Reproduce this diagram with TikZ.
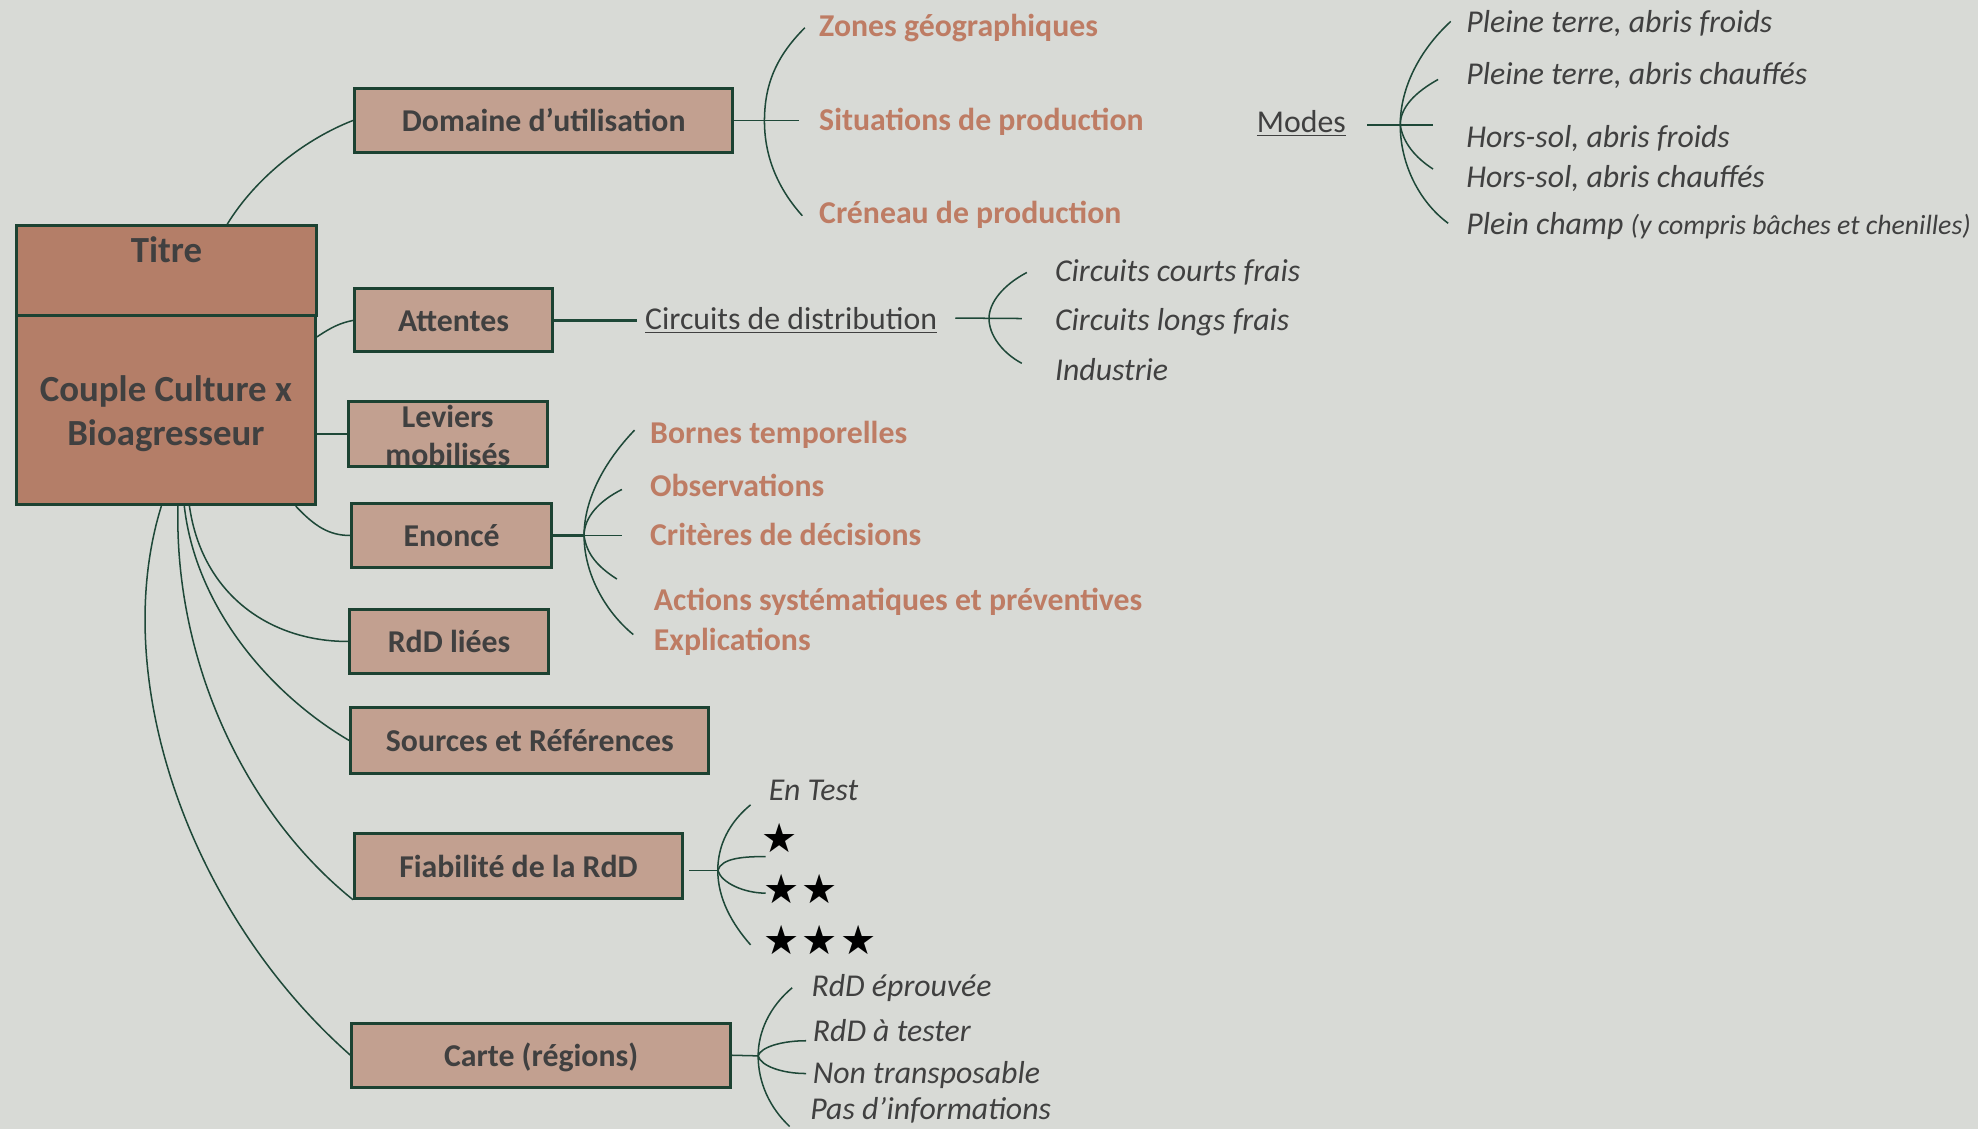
\documentclass[tikz,border=0pt]{standalone}
\usepackage{fontspec}
\setmainfont{Carlito}
\newfontfamily\symfont{DejaVu Sans}
\usetikzlibrary{calc}

\definecolor{bgc}{RGB}{216,218,214}
\definecolor{boxl}{RGB}{194,160,144}
\definecolor{boxd}{RGB}{180,126,104}
\definecolor{bordc}{RGB}{28,66,50}
\definecolor{linec}{RGB}{30,72,56}
\definecolor{orac}{RGB}{190,124,100}
\definecolor{txtc}{RGB}{64,64,64}

\newcommand\bxfont{\bfseries\fontsize{12.6}{15}\selectfont}
\newcommand\ttlfont{\bfseries\fontsize{14.6}{17.5}\selectfont}

\tikzset{
  frame/.style={draw=bordc, line width=1.2pt, inner sep=0pt},
  box/.style={frame, fill=boxl, text=txtc, font=\bxfont, text height=8.8pt, text depth=0pt},
  link/.style={draw=linec, line width=0.6pt},
  stub/.style={draw=linec, line width=1.1pt},
  item/.style={anchor=west, inner sep=0pt, text height=8.8pt, text depth=0pt},
  subbold/.style={item, text=orac, font=\bfseries\fontsize{12.6}{15}\selectfont},
  subital/.style={item, text=txtc, font=\itshape\fontsize{12.6}{15}\selectfont},
  subplain/.style={item, text=txtc, font=\fontsize{12.6}{15}\selectfont},
  starrow/.style={anchor=base west, inner sep=0pt, text=black, font=\symfont\fontsize{16}{18}\selectfont},
}

\begin{document}
\begin{tikzpicture}[x=0.5pt,y=-0.5pt]
\fill[bgc] (0,0) rectangle (1568,895);
\useasboundingbox (0,0) rectangle (1568,895);

% central block
\node[frame, fill=boxd, minimum width=119pt, minimum height=35.5pt] (titre) at (132,214.5) {};
\node[inner sep=0pt, text=txtc, font=\ttlfont, text height=10pt, text depth=0pt] (titrelbl) at (132,198) {Titre};
\node[frame, fill=boxd, minimum width=118.5pt, minimum height=75pt] (couple) at (131.5,325) {};
\node[inner sep=0pt, text=txtc, font=\ttlfont, align=center] (couplelbl) at (131.5,328) {Couple Culture x\\Bioagresseur};

% first-level boxes
\node[box, minimum width=150pt, minimum height=25.5pt] (dom) at (431,95.5) {Domaine d’utilisation};
\node[box, minimum width=78.5pt, minimum height=25pt] (att) at (359.5,254) {Attentes};
\node[frame, fill=boxl, minimum width=79pt, minimum height=26pt] (lev) at (355,344) {};
\node[inner sep=0pt, text=txtc, font=\bxfont, align=center] (levlbl) at (355,345) {Leviers\\mobilisés};
\node[box, minimum width=79pt, minimum height=25.5pt] (eno) at (358,424.5) {Enoncé};
\node[box, minimum width=79pt, minimum height=25.5pt] (rdd) at (356,508.5) {RdD liées};
\node[box, minimum width=142pt, minimum height=26pt] (src) at (420,587) {Sources et Références};
\node[box, minimum width=130pt, minimum height=25.5pt] (fia) at (411,686.5) {Fiabilité de la RdD};
\node[box, minimum width=150pt, minimum height=25.5pt] (car) at (429,836.5) {Carte (régions)};

% links from the central block
\draw[link] ($(titre.north west)!0.7!(titre.north east)$) .. controls +(24,-39) and +(-36,14) .. (dom.west);
\draw[link] ($(couple.north east)!0.12!(couple.south east)$) .. controls +(12,-8) and +(-10,2) .. (att.west);
\draw[stub] (lev.west -| couple.east) -- (lev.west);
\draw[link] ($(couple.south west)!0.93!(couple.south east)$) .. controls +(15,16) and +(-17,0) .. (eno.west);
\draw[link] ($(couple.south west)!0.578!(couple.south east)$) .. controls +(10,70) and +(-62,0) .. (rdd.west);
\draw[link] ($(couple.south west)!0.561!(couple.south east)$) .. controls +(9,80) and +(-63,-37) .. (src.west);
\draw[link] ($(couple.south west)!0.54!(couple.south east)$) .. controls +(-3,120) and +(-88,-71) .. (fia.south west);
\draw[link] ($(couple.south west)!0.485!(couple.south east)$) .. controls +(-42,135) and +(-129,-114) .. (car.west);

% Domaine d'utilisation
\node[subbold] (zon) at (649,20) {Zones géographiques};
\node[subbold] (sit) at (649,95) {Situations de production};
\node[subbold] (cre) at (649,168) {Créneau de production};
\coordinate (domfork) at (606,96);
\coordinate (domstub) at (633,96);
\coordinate (domtop) at (638,22);
\coordinate (dombot) at (636,171);
\draw[link] (dom.east) -- (dom.east -| domstub);
\draw[link] (domtop) .. controls (616,44) and (606,66) .. (domfork) .. controls (606,126) and (618,151) .. (dombot);

% Modes
\node[subplain] (modes) at (996,96) {\underline{Modes}};
\node[subital] (m1) at (1162,17) {Pleine terre, abris froids};
\node[subital] (m2) at (1162,58) {Pleine terre, abris chauffés};
\node[subital] (m3) at (1162,108) {Hors-sol, abris froids};
\node[subital] (m4) at (1162,140) {Hors-sol, abris chauffés};
\node[subital] (m5) at (1162,177) {Plein champ {\fontsize{11}{13}\selectfont(y compris bâches et chenilles)}};
\coordinate (modstart) at (1084,99);
\coordinate (modfork) at (1110,99);
\coordinate (modstub) at (1136,99);
\coordinate (modtop) at (1150,17);
\coordinate (modbot) at (1148,177);
\coordinate (modin1) at (1140,63);
\coordinate (modin2) at (1136,134);
\draw[link] (modstart) -- (modstub);
\draw[link] (modtop) .. controls (1125,40) and (1110,70) .. (modfork) .. controls (1110,130) and (1125,160) .. (modbot);
\draw[link] (modin1) .. controls (1122,73) and (1110,85) .. (modfork);
\draw[link] (modfork) .. controls (1112,113) and (1122,125) .. (modin2);

% Attentes
\node[subplain] (cdd) at (511,252) {\underline{Circuits de distribution}};
\node[subital] (c1) at (836,214) {Circuits courts frais};
\node[subital] (c2) at (836,253) {Circuits longs frais};
\node[subital] (c3) at (836,293) {Industrie};
\coordinate (cirfork) at (784,252.5);
\coordinate (cirstub) at (810,252.5);
\coordinate (cirtop) at (814,216);
\coordinate (cirbot) at (810,288);
\draw[stub, shorten >=3pt] (att.east) -- (att.east -| cdd.west);
\draw[link, shorten <=7pt] (cdd.east) -- (cirstub);
\draw[link] (cirtop) .. controls (795,226) and (784,240) .. (cirfork) .. controls (784,266) and (795,280) .. (cirbot);

% Enonce
\node[subbold] (e1) at (515,343) {Bornes temporelles};
\node[subbold] (e2) at (515,385) {Observations};
\node[subbold] (e3) at (515,424) {Critères de décisions};
\node[subbold] (e4) at (518,475) {Actions systématiques et préventives};
\node[subbold] (e5) at (518,507) {Explications};
\coordinate (enofork) at (463,424.5);
\coordinate (enostub) at (493,424.5);
\coordinate (enotop) at (503,341);
\coordinate (enobot) at (502,503);
\coordinate (enoin1) at (493,388);
\coordinate (enoin2) at (489,459);
\draw[stub] (eno.east) -- (enofork);
\draw[link] (enofork) -- (enostub);
\draw[link] (enotop) .. controls (480,365) and (463,395) .. (enofork) .. controls (463,455) and (480,485) .. (enobot);
\draw[link] (enoin1) .. controls (475,397) and (463,410) .. (enofork);
\draw[link] (enofork) .. controls (465,440) and (475,450) .. (enoin2);

% Fiabilite
\node[subital] (f0) at (609,626) {En Test};
\node[starrow] (f1) at (603,676) {★};
\node[starrow] (f2) at (605,716) {★\hspace{0.8pt}★};
\node[starrow] (f3) at (605,757) {★\hspace{0.8pt}★\hspace{0.8pt}★};
\coordinate (fiafork) at (569,690);
\coordinate (fiatop) at (595,638);
\coordinate (fiabot) at (595,749);
\coordinate (fiain1) at (607,679);
\coordinate (fiain2) at (607,708);
\draw[link, shorten <=2pt] (fia.east |- fiafork) -- (fiafork);
\draw[link] (fiatop) .. controls (578,652) and (569,670) .. (fiafork) .. controls (569,712) and (580,732) .. (fiabot);
\draw[link] (fiafork) .. controls (572,680) and (590,679) .. (fiain1);
\draw[link] (fiafork) .. controls (572,700) and (590,708) .. (fiain2);

% Carte
\node[subital] (r1) at (643,781) {RdD éprouvée};
\node[subital] (r2) at (644,817) {RdD à tester};
\node[subital] (r3) at (644,850) {Non transposable};
\node[subital] (r4) at (642,879) {Pas d’informations};
\coordinate (carfork) at (601,837);
\coordinate (cartop) at (628,783);
\coordinate (carbot) at (626,893);
\coordinate (carin1) at (639,825);
\coordinate (carin2) at (639,851);
\draw[link] (car.east) -- (carfork);
\draw[link] (cartop) .. controls (610,798) and (601,818) .. (carfork) .. controls (601,858) and (610,878) .. (carbot);
\draw[link] (carfork) .. controls (603,830) and (620,825) .. (carin1);
\draw[link] (carfork) .. controls (603,845) and (620,851) .. (carin2);
\end{tikzpicture}
\end{document}
